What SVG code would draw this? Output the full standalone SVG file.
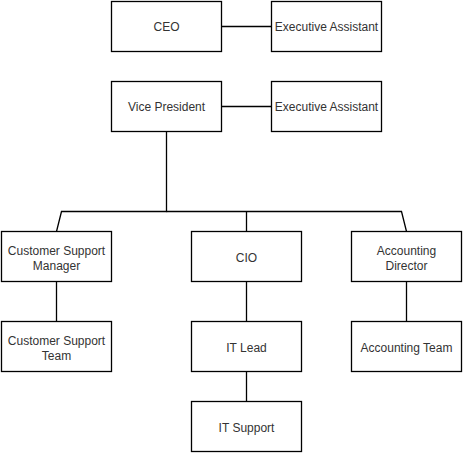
<svg xmlns="http://www.w3.org/2000/svg" width="463" height="453" viewBox="0 0 463 453">
<style>
.box{fill:#fff;stroke:#000;stroke-width:1.3}
.lbl{font-family:"Liberation Sans",Arial,sans-serif;font-size:12px;fill:#333;text-anchor:middle}
.edge{fill:none;stroke:#000;stroke-width:1.3}
</style>
<rect width="463" height="453" fill="#fff"/>
<g id="connectors">
<path class="edge" d="M221.5 26.5H271.5"/>
<path class="edge" d="M221.5 106.5H271.5"/>
<path class="edge" d="M166.5 131.5V211.5H61.5L56.5 231.5"/>
<path class="edge" d="M166.5 211.5H401.5L406.5 231.5"/>
<path class="edge" d="M246.5 211.5V231.5"/>
<path class="edge" d="M56.5 281.5V321.5"/>
<path class="edge" d="M246.5 281.5V321.5"/>
<path class="edge" d="M406.5 281.5V321.5"/>
<path class="edge" d="M246.5 371.5V401.5"/>
</g>
<g id="ceo"><rect class="box" x="111.5" y="1.5" width="110" height="50"/><text class="lbl" x="166.5" y="31">CEO</text></g>
<g id="ea1"><rect class="box" x="271.5" y="1.5" width="110" height="50"/><text class="lbl" x="326.5" y="31">Executive Assistant</text></g>
<g id="vp"><rect class="box" x="111.5" y="81.5" width="110" height="50"/><text class="lbl" x="166.5" y="111">Vice President</text></g>
<g id="ea2"><rect class="box" x="271.5" y="81.5" width="110" height="50"/><text class="lbl" x="326.5" y="111">Executive Assistant</text></g>
<g id="csm"><rect class="box" x="1.5" y="231.5" width="110" height="50"/><text class="lbl" x="56.5" y="255">Customer Support</text><text class="lbl" x="56.5" y="270">Manager</text></g>
<g id="cio"><rect class="box" x="191.5" y="231.5" width="110" height="50"/><text class="lbl" x="246.5" y="262">CIO</text></g>
<g id="ad"><rect class="box" x="351.5" y="231.5" width="110" height="50"/><text class="lbl" x="406.5" y="255">Accounting</text><text class="lbl" x="406.5" y="270">Director</text></g>
<g id="cst"><rect class="box" x="1.5" y="321.5" width="110" height="50"/><text class="lbl" x="56.5" y="345">Customer Support</text><text class="lbl" x="56.5" y="360">Team</text></g>
<g id="itlead"><rect class="box" x="191.5" y="321.5" width="110" height="50"/><text class="lbl" x="246.5" y="352">IT Lead</text></g>
<g id="at"><rect class="box" x="351.5" y="321.5" width="110" height="50"/><text class="lbl" x="406.5" y="352">Accounting Team</text></g>
<g id="itsupport"><rect class="box" x="191.5" y="401.5" width="110" height="50"/><text class="lbl" x="246.5" y="432">IT Support</text></g>
</svg>
